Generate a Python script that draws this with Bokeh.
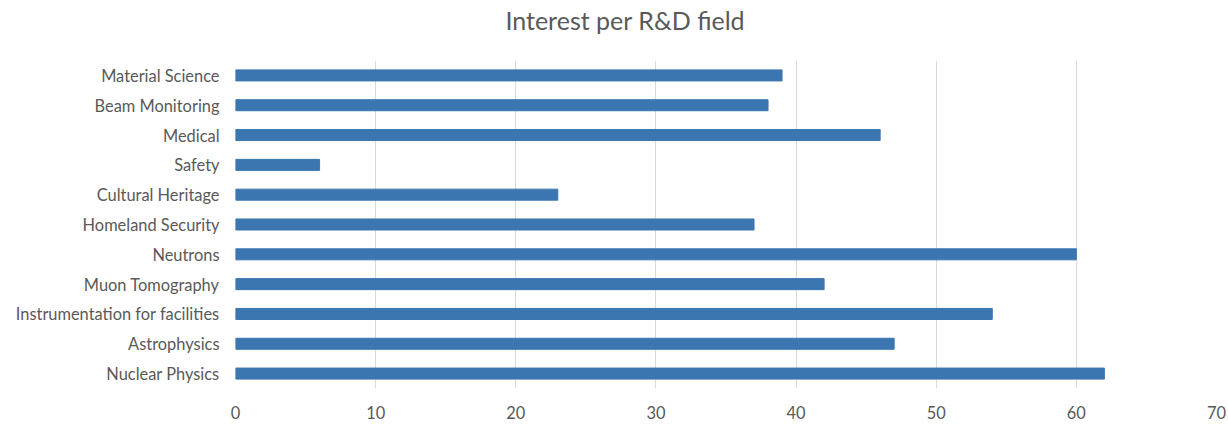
from bokeh.plotting import figure
from bokeh.layouts import column
from bokeh.models import ColumnDataSource, FixedTicker, Range1d, Div
from bokeh.embed import file_html
from bokeh.resources import INLINE

# Survey results: number of respondents interested in each R&D field
fields = [
    "Nuclear Physics",
    "Astrophysics",
    "Instrumentation for facilities",
    "Muon Tomography",
    "Neutrons",
    "Homeland Security",
    "Cultural Heritage",
    "Safety",
    "Medical",
    "Beam Monitoring",
    "Material Science",
]
interest = [62, 47, 54, 42, 60, 37, 23, 6, 46, 38, 39]
x_ticks = [0, 10, 20, 30, 40, 50, 60, 70]
chart_title = "Interest per R&D field"

FONT = "Lato"
TEXT_COLOR = "#595959"
BAR_COLOR = "#3C76B0"

W = 1228
TITLE_H = 40

source = ColumnDataSource(data=dict(field=fields, interest=interest))

p = figure(
    y_range=fields,
    x_range=Range1d(0, 70),
    width=W,
    height=431 - TITLE_H,
    output_backend="svg",
    toolbar_location=None,
    min_border_left=235,
    min_border_right=12,
    min_border_top=20,
    min_border_bottom=43,
)
p.y_range.range_padding = 0

p.hbar(y="field", right="interest", left=0, height=0.37, source=source,
       fill_color=BAR_COLOR, line_color=BAR_COLOR)

p.outline_line_color = None
p.background_fill_color = "white"
p.border_fill_color = "white"

# vertical gridlines only
p.ygrid.grid_line_color = None
p.xgrid.grid_line_color = "#D9D9D9"
p.xgrid.grid_line_width = 1
p.xaxis.ticker = FixedTicker(ticks=x_ticks)

for ax in (p.xaxis, p.yaxis):
    ax.axis_line_color = None
    ax.major_tick_line_color = None
    ax.minor_tick_line_color = None
    ax.major_label_text_font = FONT
    ax.major_label_text_font_size = "16.4px"
    ax.major_label_text_color = TEXT_COLOR

p.yaxis.major_label_standoff = 10
p.xaxis.major_label_standoff = 11

# chart title, centred over the whole chart area
title = Div(text=chart_title, render_as_text=True, width=W, height=TITLE_H,
            margin=(0, 0, 0, 0),
            styles={"font-family": FONT, "font-size": "25px",
                    "color": TEXT_COLOR, "text-align": "center",
                    "line-height": f"{TITLE_H}px", "padding-left": "22px",
                    "box-sizing": "border-box", "background": "white"})

layout = column(title, p, spacing=0)

open("out.html", "w").write(file_html(layout, INLINE))
